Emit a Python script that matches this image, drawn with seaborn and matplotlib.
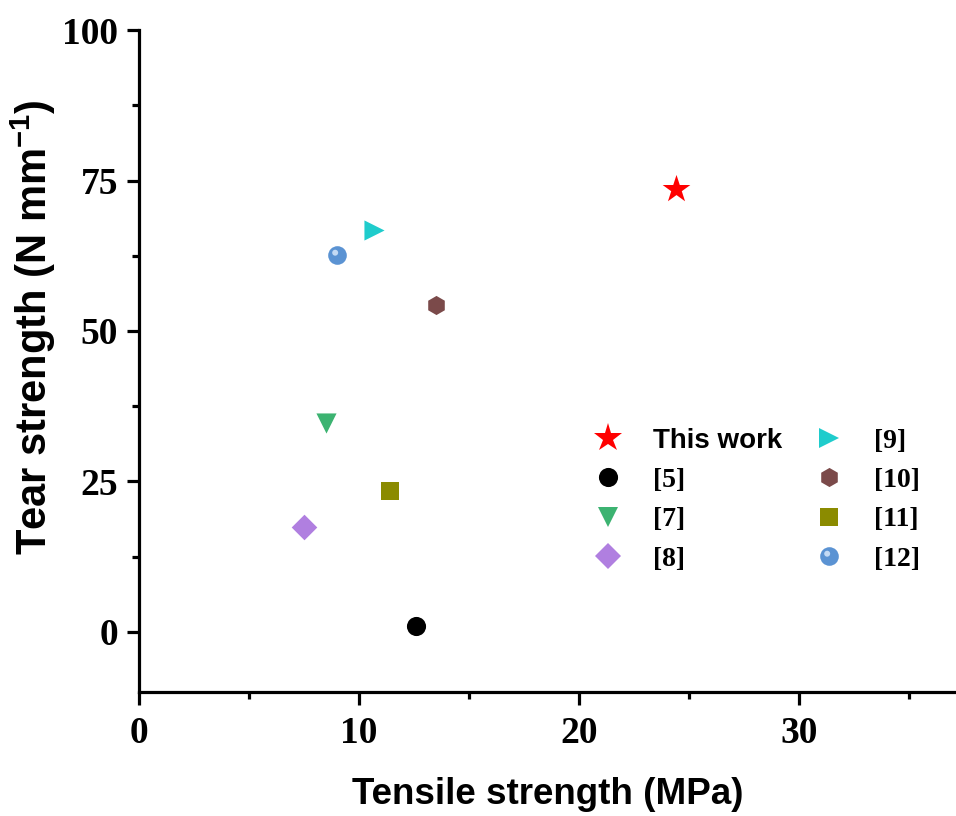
import numpy as np
import pandas as pd
import seaborn as sns
import matplotlib.pyplot as plt
from matplotlib.path import Path
from matplotlib.legend_handler import HandlerTuple
from matplotlib.ticker import MultipleLocator

# values
refs = ['This work', '[5]', '[7]', '[8]', '[9]', '[10]', '[11]', '[12]']
tensile = [24.4, 12.6, 8.5, 7.5, 10.7, 13.5, 11.4, 9.0]
tear = [73.6, 0.9, 34.7, 17.4, 66.8, 54.3, 23.4, 62.6]

colors = ['#FF0000', '#000000', '#3CB371', '#B07FE0', '#1FCCCC', '#7B4A4A', '#8B8B00', '#5B93D3']
markers = ['*', 'o', 'v', 'D', '>', 'h', 's', 'o']
sizes = [440, 190, 210, 170, 210, 190, 160, 180]

df = pd.DataFrame({'ref': refs, 'x': tensile, 'y': tear})

sns.set_style('ticks')
plt.rcParams['font.family'] = ['Liberation Serif', 'DejaVu Serif']
plt.rcParams['mathtext.fontset'] = 'custom'
plt.rcParams['mathtext.rm'] = 'Liberation Sans:bold'
plt.rcParams['mathtext.bf'] = 'Liberation Sans:bold'
for k in ['text.color', 'axes.labelcolor', 'xtick.color', 'ytick.color', 'axes.edgecolor']:
    plt.rcParams[k] = 'black'

fig = plt.figure(figsize=(9.56, 8.16), dpi=100)
ax = fig.add_axes([0.1454, 0.152, 0.8546, 0.811])

# small highlight for the "sphere" marker
hl = Path.circle(center=(-0.25, 0.3), radius=0.32)
hl = Path(np.vstack([hl.vertices, [[-1, -1], [1, 1]]]),
          np.concatenate([hl.codes, [Path.MOVETO, Path.MOVETO]]))

handles = []
for i, row in df.iterrows():
    sns.scatterplot(x=[row.x], y=[row.y], marker=markers[i], color=colors[i],
                    s=sizes[i], linewidth=0, ax=ax, zorder=3)
    h = plt.Line2D([], [], ls='', marker=markers[i], color=colors[i],
                   ms=np.sqrt(sizes[i]), mew=0)
    if row.ref == '[12]':
        sns.scatterplot(x=[row.x], y=[row.y], marker=hl, color='#C4DAF4',
                        s=sizes[i], linewidth=0, ax=ax, zorder=4)
        h2 = plt.Line2D([], [], ls='', marker=hl, color='#C4DAF4',
                        ms=np.sqrt(sizes[i]), mew=0)
        h = (h, h2)
    handles.append(h)

ax.set_xlim(0, 37.15)
ax.set_ylim(-10, 100)
ax.xaxis.set_major_locator(MultipleLocator(10))
ax.xaxis.set_minor_locator(MultipleLocator(5))
ax.yaxis.set_major_locator(MultipleLocator(25))
ax.yaxis.set_minor_locator(MultipleLocator(12.5))

for s in ['top', 'right']:
    ax.spines[s].set_visible(False)
for s in ['left', 'bottom']:
    ax.spines[s].set_linewidth(2.3)

ax.tick_params(which='major', length=9, width=2.3, pad=8, labelsize=27, direction='out')
ax.tick_params(which='minor', length=5, width=2.3, direction='out')
ax.tick_params(axis='y', pad=6)
for lab in ax.get_xticklabels() + ax.get_yticklabels():
    lab.set_fontweight('bold')

ax.set_xlabel('Tensile strength (MPa)', family='Liberation Sans', fontweight='bold',
              fontsize=26.5)
ax.set_ylabel('Tear strength (N mm$^{-1}$)', family='Liberation Sans', fontweight='bold',
              fontsize=30)
ax.xaxis.set_label_coords(0.5, -0.128)
ax.yaxis.set_label_coords(-0.099, 0.551)

leg = ax.legend(handles, refs, ncol=2, loc='upper left', bbox_to_anchor=(0.51, 0.437),
                frameon=False, handler_map={tuple: HandlerTuple(ndivide=1)},
                handletextpad=0.6, columnspacing=0.7, labelspacing=0.5,
                prop={'family': 'Liberation Serif', 'weight': 'bold', 'size': 20})
leg.get_texts()[0].set_family('Liberation Sans')

fig.savefig('out.png', dpi=100)
